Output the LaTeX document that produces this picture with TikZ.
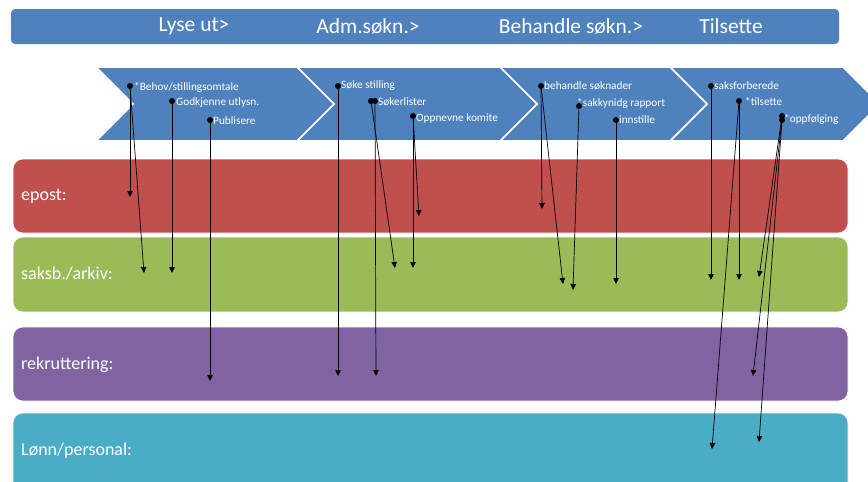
\documentclass[tikz,border=0pt]{standalone}
\usepackage{fontspec}
\setmainfont{Carlito}
\usetikzlibrary{arrows.meta}
\definecolor{hdrblue}{HTML}{4F81BD}
\definecolor{laneRed}{HTML}{C0504D}
\definecolor{laneGreen}{HTML}{9BBB59}
\definecolor{lanePurple}{HTML}{8064A2}
\definecolor{laneTeal}{HTML}{4BACC6}
\tikzset{
  lane/.style={rounded corners=10pt, draw=white, line width=0.6pt},
  lanelabel/.style={anchor=west, text=white, font=\fontsize{18}{18}\selectfont, inner sep=0pt},
  phase/.style={text=white, font=\fontsize{21.5}{21.5}\selectfont, inner sep=0pt},
  chev/.style={fill=hdrblue, draw=white, line width=1.6pt, line join=miter},
  task/.style={anchor=west, text=white, font=\fontsize{11.3}{11.3}\selectfont, inner sep=0pt},
  dot/.style={circle, fill=black, inner sep=0pt, minimum size=6pt},
  flow/.style={-{Triangle[width=5.5pt,length=6pt]}, line width=0.7pt, black}
}
\begin{document}
\begin{tikzpicture}[x=1pt,y=-1pt]
\useasboundingbox (0,0) rectangle (868,482);
\begin{scope}
\clip (0,0) rectangle (868,482);

% phase banner
\node[fill=hdrblue, rounded corners=4pt, minimum width=828pt, minimum height=35pt, inner sep=0pt] (banner) at (425,26.5) {};
\node[phase] (p1) at (194,26) {Lyse ut>};
\node[phase] (p2) at (368,26) {Adm.søkn.>};
\node[phase] (p3) at (571,26) {Behandle søkn.>};
\node[phase] (p4) at (731,26) {Tilsette};

% swim lanes
\fill[laneRed,lane] (13,159) rectangle (848,233);
\fill[laneGreen,lane] (13,237) rectangle (848,312);
\fill[lanePurple,lane] (13,327) rectangle (848,401);
\fill[laneTeal,lane] (13,413) rectangle (848,500);
\node[lanelabel] (l1) at (21,196) {epost:};
\node[lanelabel] (l2) at (21,274) {saksb./arkiv:};
\node[lanelabel] (l3) at (21,365) {rekruttering:};
\node[lanelabel] (l4) at (21,451) {Lønn/personal:};

% process chevrons
\path[chev] (670,67) -- (843,67) -- (880,104) -- (843,141) -- (670,141) -- (707,104) -- cycle;
\path[chev] (500,67) -- (670,67) -- (707,104) -- (670,141) -- (500,141) -- (537,104) -- cycle;
\path[chev] (297,67) -- (500,67) -- (537,104) -- (500,141) -- (297,141) -- (334,104) -- cycle;
\path[chev] (96,67) -- (297,67) -- (334,104) -- (297,141) -- (96,141) -- (133,104) -- cycle;

% tasks
\node[task] (t1) at (134,87) {*Behov/stillingsomtale};
\node[task] (t2) at (176,103) {Godkjenne utlysn.};
\node[task] (t3) at (213,121) {Publisere};
\node[task] (t4) at (341,86) {Søke stilling};
\node[task] (t5) at (378,102) {Søkerlister};
\node[task] (t6) at (416,118) {Oppnevne komite};
\node[task] (t7) at (544,86) {behandle søknader};
\node[task] (t8) at (577,103) {*sakkynidg rapport};
\node[task] (t9) at (619,120) {innstille};
\node[task] (t10) at (714,86) {saksforberede};
\node[task] (t11) at (745,102) {*tilsette};
\node[task] (t12) at (784,119) {*oppfølging};

% connector dots
\node[dot] (d1) at (130,86) {};
\node[dot] (d2) at (172,101) {};
\node[dot] (d3) at (210,120) {};
\node[dot] (d4) at (338,86) {};
\node[dot] (d5a) at (371,101) {};
\node[dot] (d5b) at (375,101) {};
\node[dot] (d6) at (413,116) {};
\node[dot] (d7) at (541,86) {};
\node[dot] (d8) at (579,106) {};
\node[dot] (d9) at (616,120) {};
\node[dot] (d10) at (711,86) {};
\node[dot] (d11) at (739,101) {};
\node[dot] (d12a) at (782,116) {};
\node[dot] (d12b) at (782,120) {};

% arrow targets in the lanes
\coordinate (e1) at (130,197);
\coordinate (e2) at (144,273);
\coordinate (e3) at (172,273);
\coordinate (e4) at (210,381);
\coordinate (e5) at (338,376);
\coordinate (e6) at (376,376);
\coordinate (e7) at (395,268);
\coordinate (e8) at (413,268);
\coordinate (e9) at (419,216);
\coordinate (e10) at (542,209);
\coordinate (e11) at (563,284);
\coordinate (e12) at (573,290);
\coordinate (e13) at (616,284);
\coordinate (e14) at (711,280);
\coordinate (e15) at (739,280);
\coordinate (e16) at (712,449);
\coordinate (e17) at (759,277);
\coordinate (e18) at (753,376);
\coordinate (e19) at (759,442);

% flows
\draw[flow] (d1.center) -- (e1);
\draw[flow] (d1.center) -- (e2);
\draw[flow] (d2.center) -- (e3);
\draw[flow] (d3.center) -- (e4);
\draw[flow] (d4.center) -- (e5);
\draw[flow] (d5b.center) -- (e6);
\draw[flow] (d5a.center) -- (e7);
\draw[flow] (d6.center) -- (e8);
\draw[flow] (d6.center) -- (e9);
\draw[flow] (d7.center) -- (e10);
\draw[flow] (d7.center) -- (e11);
\draw[flow] (d8.center) -- (e12);
\draw[flow] (d9.center) -- (e13);
\draw[flow] (d10.center) -- (e14);
\draw[flow] (d11.center) -- (e15);
\draw[flow] (d11.center) -- (e16);
\draw[flow] (d12a.center) -- (e17);
\draw[flow] (d12b.center) -- (e18);
\draw[flow] (d12b.center) -- (e19);
\end{scope}
\end{tikzpicture}
\end{document}
